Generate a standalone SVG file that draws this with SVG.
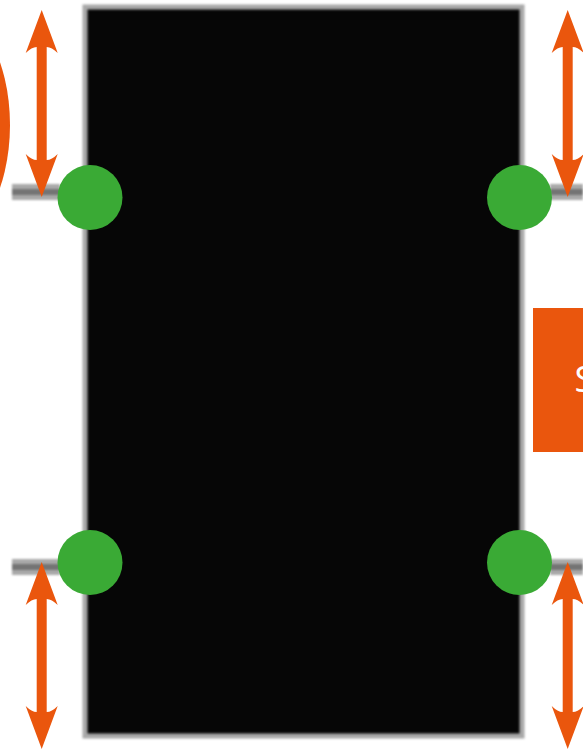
<svg xmlns="http://www.w3.org/2000/svg" width="583" height="749" viewBox="0 0 583 749">
<defs>
<filter id="blur" x="-5%" y="-5%" width="110%" height="110%" color-interpolation-filters="sRGB"><feGaussianBlur stdDeviation="1.1"/></filter>
<filter id="blurLead" filterUnits="userSpaceOnUse" x="0" y="170" width="583" height="420" color-interpolation-filters="sRGB"><feGaussianBlur stdDeviation="1.2"/></filter>
<path id="arrow" d="M0 0L16 43Q10 37 5 37V150Q10 150 16 144L0 187L-16 144Q-10 150 -5 150V37Q-10 37 -16 43Z"/>
</defs>
<style>
.o{fill:#ea560d}
.port{fill:#3aaa35}
.lead{fill:none;stroke:#a9a9a9;stroke-width:16}
.core{fill:none;stroke:#747474;stroke-width:6}
</style>
<rect width="583" height="749" fill="#fff"/>
<g id="body">
<rect x="85" y="7" width="437" height="729" fill="#060606" stroke="#a8a8a8" stroke-width="5" filter="url(#blur)"/>
</g>
<g id="connectors">
<g filter="url(#blurLead)">
<path class="lead" d="M12 192H60M12 567H60M550 192H583M550 567H583"/>
<path class="core" d="M12 192H60M12 567H60M550 192H583M550 567H583"/>
</g>
<use href="#arrow" class="o" x="41.700" y="10"/>
<use href="#arrow" class="o" x="567.700" y="10"/>
<use href="#arrow" class="o" x="41.700" y="562"/>
<use href="#arrow" class="o" x="567.700" y="562"/>
</g>
<g id="ellipse"><ellipse class="o" cx="-60" cy="125" rx="70" ry="122"/></g>
<g id="port-tl"><circle class="port" cx="90" cy="197.500" r="32.500"/></g>
<g id="port-tr"><circle class="port" cx="519.500" cy="197.500" r="32.500"/></g>
<g id="port-bl"><circle class="port" cx="90" cy="562.500" r="32.500"/></g>
<g id="port-br"><circle class="port" cx="519.500" cy="562.500" r="32.500"/></g>
<g id="label">
<rect class="o" x="533" y="308" width="60" height="144"/>
<text x="574.500" y="392" font-family="'Open Sans',sans-serif" font-size="36" fill="#fff">S</text>
</g>
</svg>
